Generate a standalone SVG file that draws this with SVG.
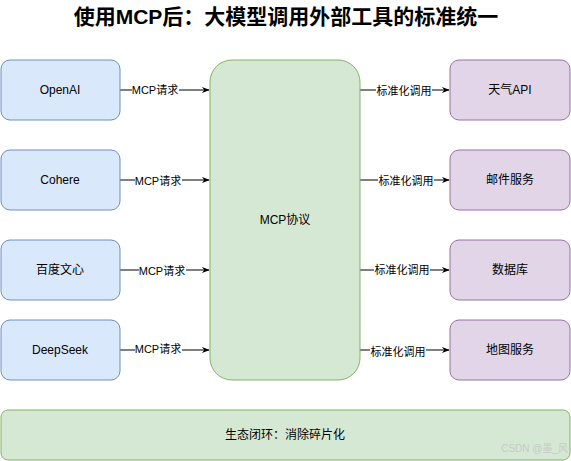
<svg xmlns="http://www.w3.org/2000/svg" width="571" height="461" viewBox="0 0 571 461">
<style>
text{font-family:"Liberation Sans","Noto Sans CJK SC",sans-serif;fill:#000}
.t{font-size:12px;text-anchor:middle;dominant-baseline:central}
.l{font-size:11px;text-anchor:middle;dominant-baseline:central}
.lb{fill:#fff}
.blue{fill:#dae8fc;stroke:#6c8ebf}
.green{fill:#d5e8d4;stroke:#82b366}
.purple{fill:#e1d5e7;stroke:#9673a6}
.e{stroke:#000;stroke-width:1;fill:none;marker-end:url(#a)}
</style>
<defs>
<marker id="a" viewBox="0 0 10 10" refX="9" refY="5" markerWidth="8" markerHeight="8" orient="auto" markerUnits="userSpaceOnUse"><path d="M0,1 L10,5 L0,9 L3,5 Z" fill="#000"/></marker>
</defs>
<rect width="571" height="461" fill="#fff"/>
<text x="286" y="16" style="font-size:21px;font-weight:bold;text-anchor:middle;dominant-baseline:central">使用MCP后：大模型调用外部工具的标准统一</text>
<g id="connectors">
<path class="e" d="M120,90H209"/><path class="e" d="M120,180H209"/><path class="e" d="M120,270H209"/><path class="e" d="M120,350H209"/>
<path class="e" d="M360,90H449"/><path class="e" d="M360,180H449"/><path class="e" d="M360,270H449"/><path class="e" d="M360,350H449"/>
<rect class="lb" x="132" y="83" width="47" height="14"/><text class="l" x="155" y="90">MCP请求</text>
<rect class="lb" x="135" y="173" width="47" height="14"/><text class="l" x="158" y="181">MCP请求</text>
<rect class="lb" x="139" y="263" width="47" height="14"/><text class="l" x="162" y="271">MCP请求</text>
<rect class="lb" x="135" y="343" width="47" height="14"/><text class="l" x="158" y="349">MCP请求</text>
<rect class="lb" x="376" y="83" width="56" height="14"/><text class="l" x="404" y="91">标准化调用</text>
<rect class="lb" x="378" y="173" width="56" height="14"/><text class="l" x="406" y="181">标准化调用</text>
<rect class="lb" x="374" y="263" width="56" height="14"/><text class="l" x="402" y="270">标准化调用</text>
<rect class="lb" x="370" y="343" width="56" height="14"/><text class="l" x="398" y="352">标准化调用</text>
</g>
<g id="openai"><rect class="blue" x="1" y="60" width="119" height="60" rx="9"/><text class="t" x="60" y="90">OpenAI</text></g>
<g id="cohere"><rect class="blue" x="1" y="150" width="119" height="60" rx="9"/><text class="t" x="60" y="180">Cohere</text></g>
<g id="baidu"><rect class="blue" x="1" y="240" width="119" height="60" rx="9"/><text class="t" x="60" y="270">百度文心</text></g>
<g id="deepseek"><rect class="blue" x="1" y="320" width="119" height="60" rx="9"/><text class="t" x="60" y="350">DeepSeek</text></g>
<g id="mcp"><rect class="green" x="210" y="60" width="150" height="320" rx="22"/><text class="t" x="285" y="220">MCP协议</text></g>
<g id="weather"><rect class="purple" x="450" y="60" width="120" height="60" rx="9"/><text class="t" x="510" y="90">天气API</text></g>
<g id="mail"><rect class="purple" x="450" y="150" width="120" height="60" rx="9"/><text class="t" x="510" y="180">邮件服务</text></g>
<g id="db"><rect class="purple" x="450" y="240" width="120" height="60" rx="9"/><text class="t" x="510" y="270">数据库</text></g>
<g id="map"><rect class="purple" x="450" y="320" width="120" height="60" rx="9"/><text class="t" x="510" y="350">地图服务</text></g>
<g id="eco"><rect class="green" x="1" y="410" width="569" height="50" rx="7"/><text class="t" x="285" y="435">生态闭环：消除碎片化</text></g>
<text x="568" y="452" style="font-size:10px;text-anchor:end;fill:#c8c8c8">CSDN @墨_风</text>
</svg>
